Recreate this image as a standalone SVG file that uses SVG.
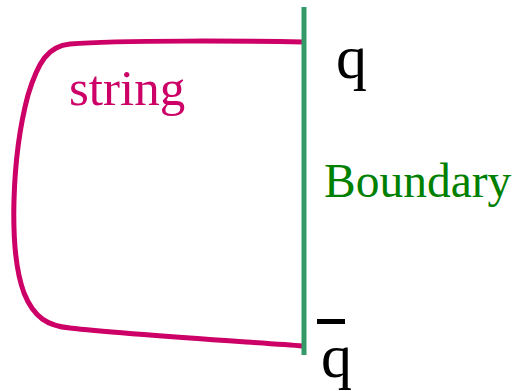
<svg xmlns="http://www.w3.org/2000/svg" width="518" height="391" viewBox="0 0 518 391">
<style>
.lbl{font-family:"Liberation Serif","Times New Roman",serif}
</style>
<rect width="518" height="391" fill="#ffffff"/>
<g id="connectors">
<path id="string-path" d="M303,42 C250,41 120,40 70,44 C48,46 38,62 28,95 C12,155 8,250 24,293 C34,318 48,326 70,328 C120,334 250,342 303,346" fill="none" stroke="#cc0066" stroke-width="5"/>
</g>
<g id="boundary">
<line x1="304" y1="7" x2="304" y2="355" stroke="#339966" stroke-width="5"/>
<text class="lbl" x="324" y="197" font-size="47.5" fill="#008000">Boundary</text>
</g>
<g id="string-label">
<text class="lbl" x="69" y="105" font-size="51" fill="#cc0066">string</text>
</g>
<g id="q">
<text class="lbl" x="336" y="78" font-size="62" fill="#000000">q</text>
</g>
<g id="qbar">
<rect x="317" y="319" width="28" height="5" fill="#000000"/>
<text class="lbl" x="321" y="377" font-size="62" fill="#000000">q</text>
</g>
</svg>
